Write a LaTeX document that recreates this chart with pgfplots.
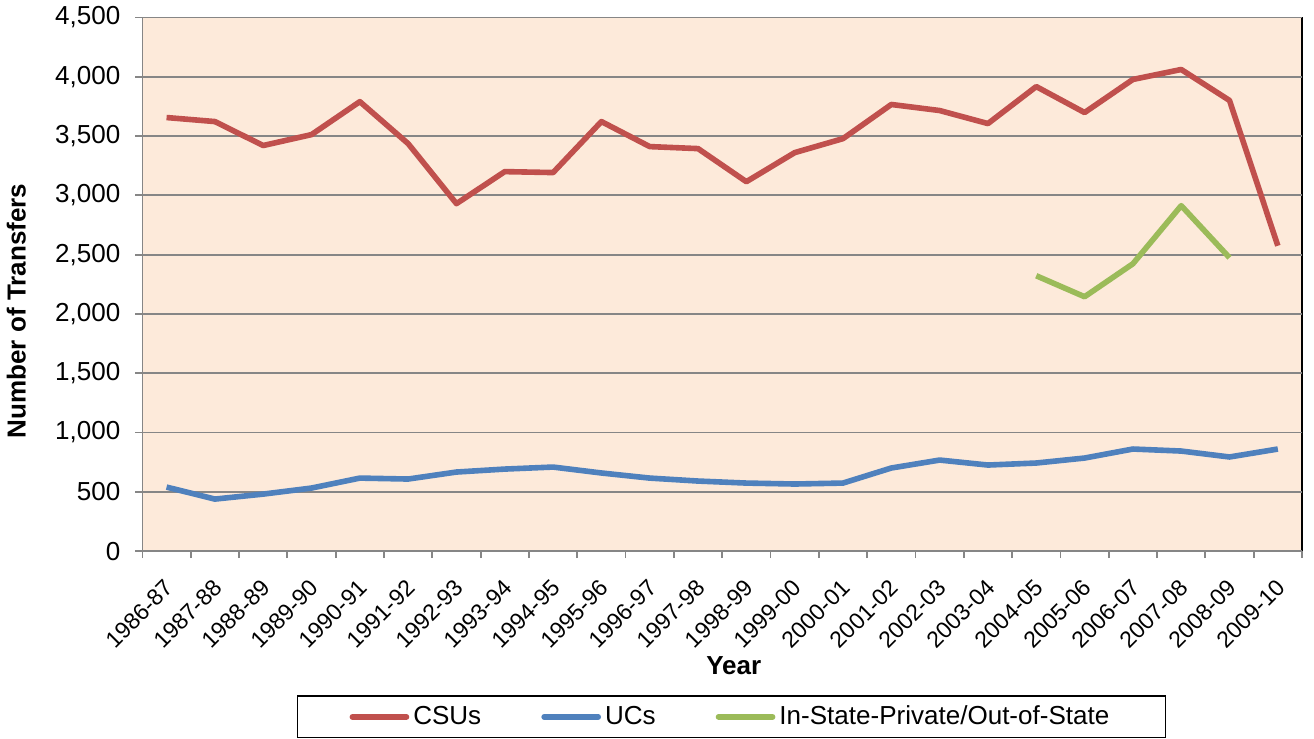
\documentclass[border=0pt]{standalone}
\usepackage{fontspec}
\setmainfont{Liberation Sans}
\usepackage{pgfplots}
\pgfplotsset{compat=1.18}
\definecolor{csu}{HTML}{C0504D}
\definecolor{uc}{HTML}{4F81BD}
\definecolor{priv}{HTML}{9BBB59}
\definecolor{plotbg}{HTML}{FDEADA}
\definecolor{gridgray}{HTML}{868686}
\begin{document}
\begin{tikzpicture}
\begin{axis}[
  scale only axis,
  width=579pt, height=266.5pt,
  xmin=-0.5, xmax=23.5,
  ymin=0, ymax=4500,
  axis background/.style={fill=plotbg, draw=black, line width=0.8pt},
  axis line style={gridgray, line width=0.9pt},
  axis x line*=bottom, axis y line*=left,
  xtick={0,...,23},
  xticklabels={1986-87,1987-88,1988-89,1989-90,1990-91,1991-92,1992-93,1993-94,1994-95,1995-96,1996-97,1997-98,1998-99,1999-00,2000-01,2001-02,2002-03,2003-04,2004-05,2005-06,2006-07,2007-08,2008-09,2009-10},
  x tick label style={font=\fontsize{11.5}{14}\selectfont, xshift=-1.5pt, yshift=-8.4pt, rotate=45, anchor=north east, inner sep=1pt},
  major x tick style={draw=none},
  minor xtick={-0.5,0.5,...,23.5},
  minor x tick style={gridgray, line width=0.9pt},
  minor tick length=3.5pt,
  tick align=outside,
  ytick={0,500,...,4500},
  y tick style={gridgray, line width=0.9pt},
  major tick length=3.5pt,
  y tick label style={font=\fontsize{13}{15}\selectfont, xshift=-4pt},
  scaled y ticks=false,
  /pgf/number format/.cd, 1000 sep={,}, assume math mode=true, /pgfplots/.cd,
  ymajorgrids,
  grid style={gridgray, line width=0.9pt},
  xlabel={\textbf{Year}},
  xlabel style={font=\fontsize{13}{15}\selectfont, at={([yshift=-57pt]axis description cs:0.51,0)}, anchor=center},
  ylabel={\textbf{Number of Transfers}},
  ylabel style={font=\fontsize{13}{15}\selectfont, at={([xshift=-63pt]axis description cs:0,0.45)}, anchor=center},
  legend columns=3,
  legend style={at={([yshift=-72pt]axis description cs:0.508,0)}, anchor=north, draw=black, line width=0.6pt,
    font=\fontsize{13}{15}\selectfont, inner xsep=26pt, inner ysep=3pt,
    /tikz/every even column/.append style={column sep=28pt}},
  legend image code/.code={\draw[#1, line cap=round] (0pt,0pt) -- (27pt,0pt);},
  after end axis/.code={\path (rel axis cs:1,1) ++(6pt,0pt);},
]
\addplot[csu, line width=2.8pt, line join=round] coordinates {
  (0,3656) (1,3622) (2,3420) (3,3512) (4,3790) (5,3436) (6,2930) (7,3200)
  (8,3192) (9,3622) (10,3411) (11,3394) (12,3115) (13,3360) (14,3478)
  (15,3766) (16,3715) (17,3605) (18,3917) (19,3698) (20,3977) (21,4061)
  (22,3800) (23,2575)
};
\addlegendentry{CSUs}
\addplot[uc, line width=2.8pt, line join=round] coordinates {
  (0,540) (1,439) (2,481) (3,532) (4,616) (5,608) (6,667) (7,692) (8,709)
  (9,659) (10,616) (11,591) (12,574) (13,566) (14,574) (15,701) (16,768)
  (17,726) (18,743) (19,785) (20,861) (21,844) (22,794) (23,861)
};
\addlegendentry{UCs}
\addplot[priv, line width=2.8pt, line join=round] coordinates {
  (18,2322) (19,2145) (20,2423) (21,2913) (22,2474)
};
\addlegendentry{In-State-Private/Out-of-State}
\end{axis}
\end{tikzpicture}
\end{document}
